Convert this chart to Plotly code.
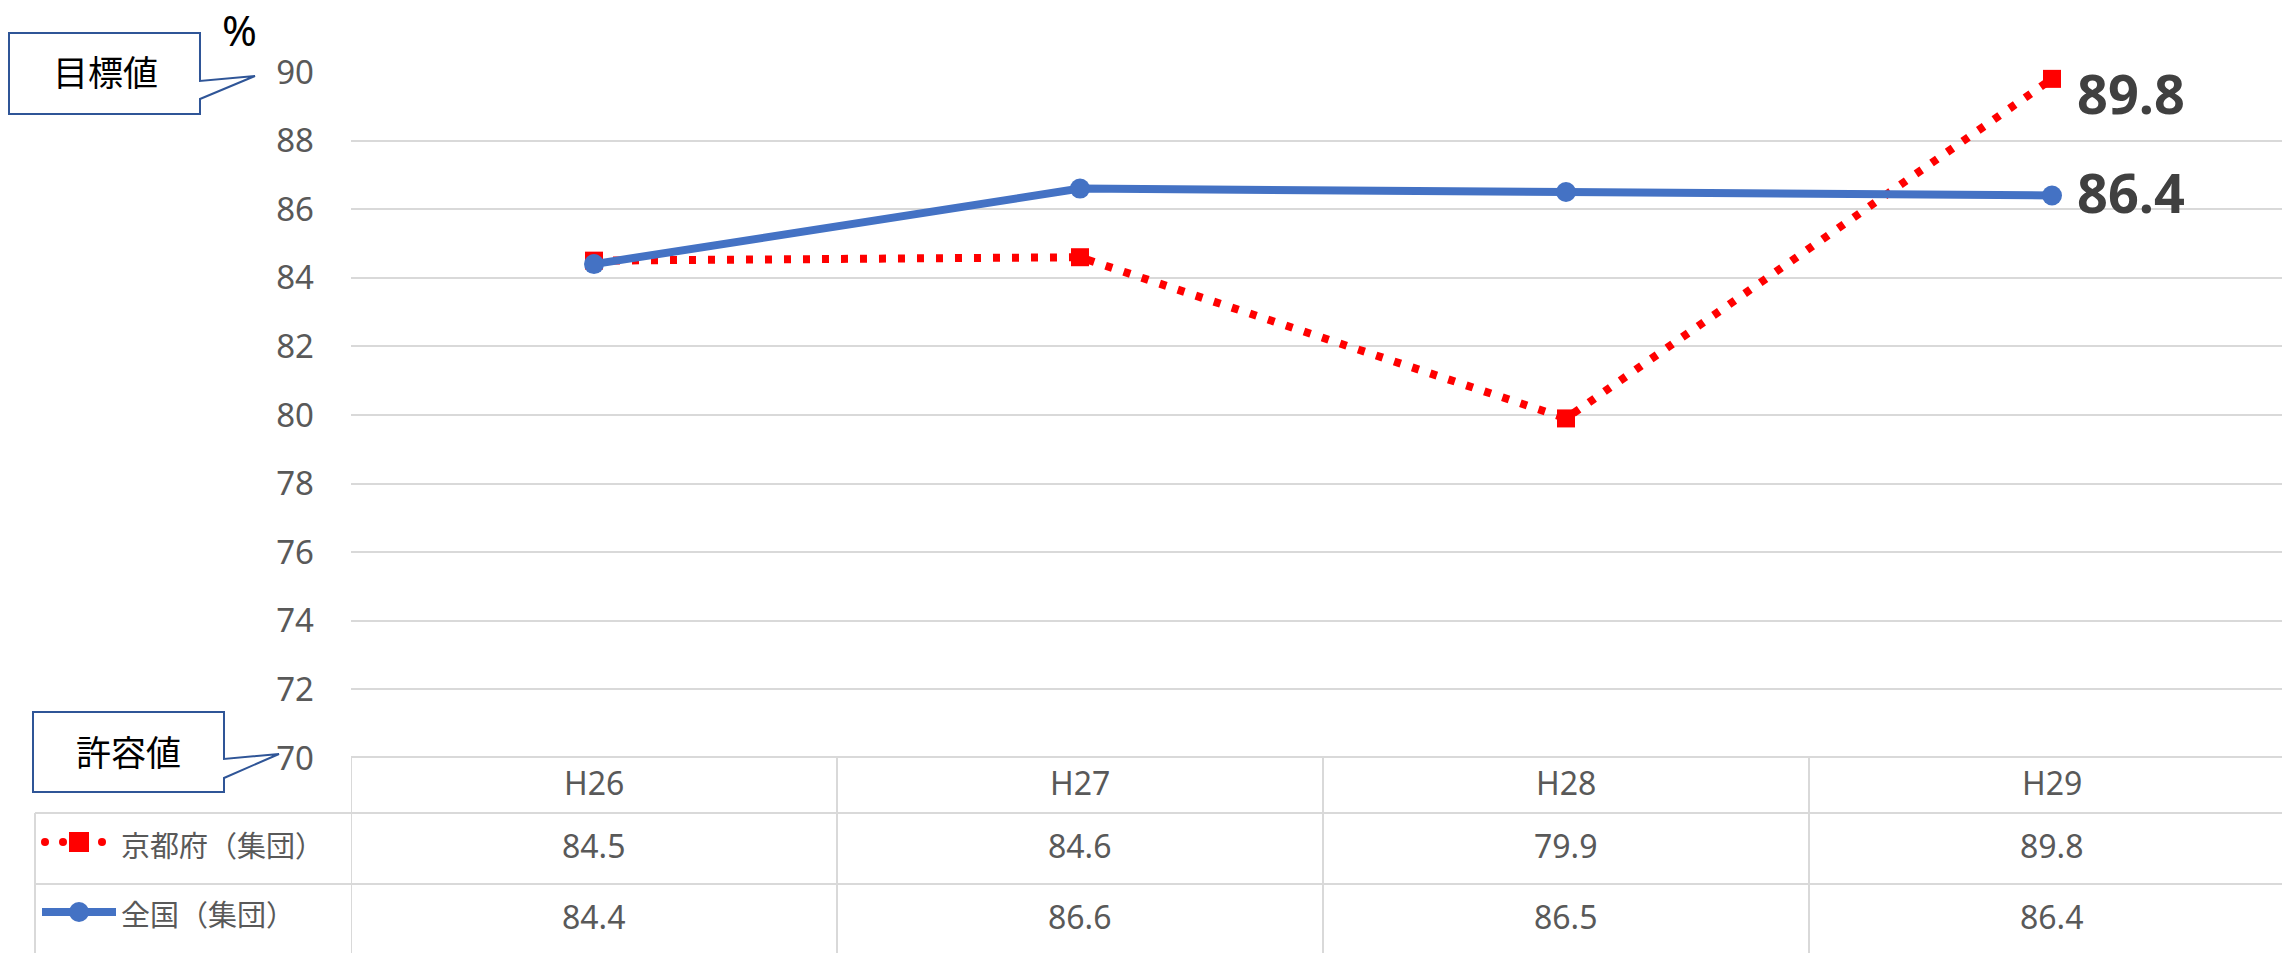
import plotly.graph_objects as go

categories = ["H26", "H27", "H28", "H29"]
kyoto = [84.5, 84.6, 79.9, 89.8]
zenkoku = [84.4, 86.6, 86.5, 86.4]
kyoto_name = "京都府（集団）"
zenkoku_name = "全国（集団）"
y_ticks = list(range(70, 91, 2))

W, H = 2282, 953
PL, PT, PW, PH = 351, 72, 1931, 686
RED = "#FF0000"
BLUE = "#4472C4"
GRID = "#D9D9D9"
TXT = "#595959"
FONT = "Noto Sans, Noto Sans CJK JP, sans-serif"
JFONT = "Noto Sans CJK JP, Noto Sans, sans-serif"


def px(x):
    return (x - PL) / PW


def py(y):
    return (PT + PH - y) / PH


x_idx = list(range(len(categories)))

fig = go.Figure()
fig.add_trace(go.Scatter(
    x=x_idx, y=kyoto, mode="lines+markers", name=kyoto_name,
    line=dict(color=RED, width=8, dash="7px,12px"),
    marker=dict(symbol="square", size=18, color=RED),
    cliponaxis=False, showlegend=False,
))
fig.add_trace(go.Scatter(
    x=x_idx, y=zenkoku, mode="lines+markers", name=zenkoku_name,
    line=dict(color=BLUE, width=8),
    marker=dict(symbol="circle", size=20, color=BLUE),
    cliponaxis=False, showlegend=False,
))

shapes = []
annotations = []


def ann(**kw):
    kw.setdefault("showarrow", False)
    kw.setdefault("xanchor", "center")
    kw.setdefault("yanchor", "middle")
    annotations.append(kw)


# end labels
for vals, ysh in ((kyoto, -14), (zenkoku, 3)):
    ann(x=x_idx[-1], y=vals[-1], xref="x", yref="y", text=f"{vals[-1]:.1f}",
        xanchor="left", xshift=23, yshift=ysh,
        font=dict(family=FONT, size=54, color="#404040", weight="bold"))

# data table
line_style = dict(color=GRID, width=2)
shapes.append(dict(type="line", xref="paper", yref="paper", x0=0, x1=1,
                   y0=py(757), y1=py(757), line=line_style))
for yy in (813, 884):
    shapes.append(dict(type="line", xref="paper", yref="paper", x0=px(35), x1=1,
                       y0=py(yy), y1=py(yy), line=line_style))
shapes.append(dict(type="line", xref="paper", yref="paper", x0=px(35), x1=px(35),
                   y0=py(813), y1=py(H + 5), line=line_style))
for b in [i - 0.5 for i in range(len(categories))]:
    shapes.append(dict(type="line", xref="x", yref="paper", x0=b, x1=b,
                       y0=py(757), y1=py(H + 5), line=line_style))

cell_font = dict(family=FONT, size=32, color=TXT)
for i, c in enumerate(categories):
    ann(x=i, y=py(783), xref="x", yref="paper", text=c, font=cell_font)
    ann(x=i, y=py(845), xref="x", yref="paper", text=f"{kyoto[i]:.1f}", font=cell_font)
    ann(x=i, y=py(916), xref="x", yref="paper", text=f"{zenkoku[i]:.1f}", font=cell_font)

jfont = dict(family=JFONT, size=29, color=TXT)
ann(x=px(119), y=py(844), xref="paper", yref="paper", text=kyoto_name, xanchor="left", font=jfont)
ann(x=px(119), y=py(913), xref="paper", yref="paper", text=zenkoku_name, xanchor="left", font=jfont)

# legend symbols in table
ly1, ly2 = 842, 912
for cx in (45, 63, 102):
    shapes.append(dict(type="circle", xref="paper", yref="paper", x0=px(cx - 4), x1=px(cx + 4),
                       y0=py(ly1 - 4), y1=py(ly1 + 4), fillcolor=RED, line=dict(width=0)))
shapes.append(dict(type="rect", xref="paper", yref="paper", x0=px(69), x1=px(89),
                   y0=py(ly1 - 10), y1=py(ly1 + 10), fillcolor=RED, line=dict(width=0)))
shapes.append(dict(type="line", xref="paper", yref="paper", x0=px(42), x1=px(116),
                   y0=py(ly2), y1=py(ly2), line=dict(color=BLUE, width=8)))
shapes.append(dict(type="circle", xref="paper", yref="paper", x0=px(69), x1=px(89),
                   y0=py(ly2 - 10), y1=py(ly2 + 10), fillcolor=BLUE, line=dict(width=0)))


# callouts
def callout(pts):
    d = "M " + " L ".join(f"{px(a):.5f},{py(b):.5f}" for a, b in pts) + " Z"
    return dict(type="path", xref="paper", yref="paper", path=d,
                fillcolor="white", line=dict(color="#2F5597", width=2))


shapes.append(callout([(9, 33), (200, 33), (200, 81), (255, 76), (200, 99), (200, 114), (9, 114)]))
shapes.append(callout([(33, 712), (224, 712), (224, 759), (279, 754), (224, 778), (224, 792), (33, 792)]))
cfont = dict(family=JFONT, size=35, color="black")
ann(x=px(105), y=py(71), xref="paper", yref="paper", text="目標値", font=cfont)
ann(x=px(128), y=py(750), xref="paper", yref="paper", text="許容値", font=cfont)
ann(x=px(239), y=py(29), xref="paper", yref="paper", text="%",
    font=dict(family=FONT, size=42, color="black"))

fig.update_layout(
    width=W, height=H,
    margin=dict(l=PL, r=W - PL - PW, t=PT, b=H - PT - PH, pad=0),
    paper_bgcolor="white", plot_bgcolor="white",
    shapes=shapes, annotations=annotations,
    showlegend=False,
    xaxis=dict(range=[-0.5, -0.5 + PW / 486], showticklabels=False, showgrid=False,
               zeroline=False, showline=False, ticks="", fixedrange=True),
    yaxis=dict(range=[70, 90], tickvals=y_ticks, ticktext=[str(v) for v in y_ticks],
               showgrid=True, gridcolor=GRID, gridwidth=2, zeroline=False, showline=False,
               ticks="", ticklabelstandoff=36,
               tickfont=dict(family=FONT, size=33, color=TXT), fixedrange=True),
)

fig.write_html("out.html", config={"displayModeBar": False},
               post_script="document.body.style.margin='0px';document.body.style.overflow='hidden';")
